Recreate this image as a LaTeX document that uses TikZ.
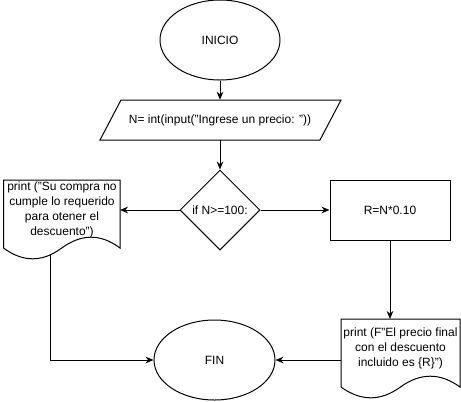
\documentclass[tikz,border=0pt]{standalone}
\usepackage{fontspec}
\setmainfont{Liberation Sans}
\usetikzlibrary{shapes.geometric,arrows.meta}
\begin{document}
\begin{tikzpicture}[x=0.75pt,y=-0.75pt,
  every node/.style={font=\fontsize{9}{11.25}\selectfont},
  shp/.style={draw=black,line width=0.75pt,fill=white},
  term/.style={shp,ellipse,minimum width=90pt,minimum height=60pt,inner sep=0pt},
  dec/.style={shp,diamond,minimum width=60pt,minimum height=60pt,inner sep=0pt},
  proc/.style={shp,rectangle,minimum width=90pt,minimum height=45pt,inner sep=0pt},
  txt/.style={align=center,inner sep=0pt},
  conn/.style={line width=0.75pt,-{Stealth[length=6pt,width=5pt]}}
]
\useasboundingbox (0,0) rectangle (461,401);
% terminals
\node[term] (ini) at (220,40) {INICIO};
\node[term,minimum width=90.75pt] (fin) at (214.5,360) {FIN};
% input parallelogram
\draw[shp] (100,140) -- (121,100) -- (341,100) -- (320,140) -- cycle;
\node[txt,minimum width=160pt,minimum height=30pt] (inp) at (220,120) {N= int(input("Ingrese un precio: "))};
% decision
\node[dec] (dia) at (220,210) {if N>=100:};
% process
\node[proc] (R) at (390,210) {R=N*0.10};
% left document
\draw[shp] (3.5,180) -- (120,180) -- (120,248)
  .. controls (100.83,233.6) and (81.42,233.6) .. (61.75,248)
  .. controls (42.42,262.4) and (23,262.4) .. (3.5,248) -- cycle;
\node[txt] (ldoc) at (62,209.5) {print ("Su compra no\\cumple lo requerido\\para otener el\\descuento")};
\coordinate (ldocE) at (120,210);
\coordinate (ldocB) at (50,255);
% right document
\draw[shp] (341,319) -- (460,319) -- (460,387)
  .. controls (440.17,372.6) and (420.33,372.6) .. (400.5,387)
  .. controls (380.67,401.4) and (360.83,401.4) .. (341,387) -- cycle;
\node[txt] (rdoc) at (400.5,348) {print (F"El precio final\\con el descuento\\incluido es \{R\}")};
\coordinate (rdocN) at (390,319);
\coordinate (rdocW) at (341,360);
% connectors
\draw[conn] (ini.south) -- (inp.north);
\draw[conn] (inp.south) -- (dia.north);
\draw[conn] (dia.west) -- (ldocE);
\draw[conn] (dia.east) -- (R.west);
\draw[conn] (R.south) -- (rdocN);
\draw[conn] (ldocB) |- (fin.west);
\draw[conn] (rdocW) -- (fin.east);
\end{tikzpicture}
\end{document}
